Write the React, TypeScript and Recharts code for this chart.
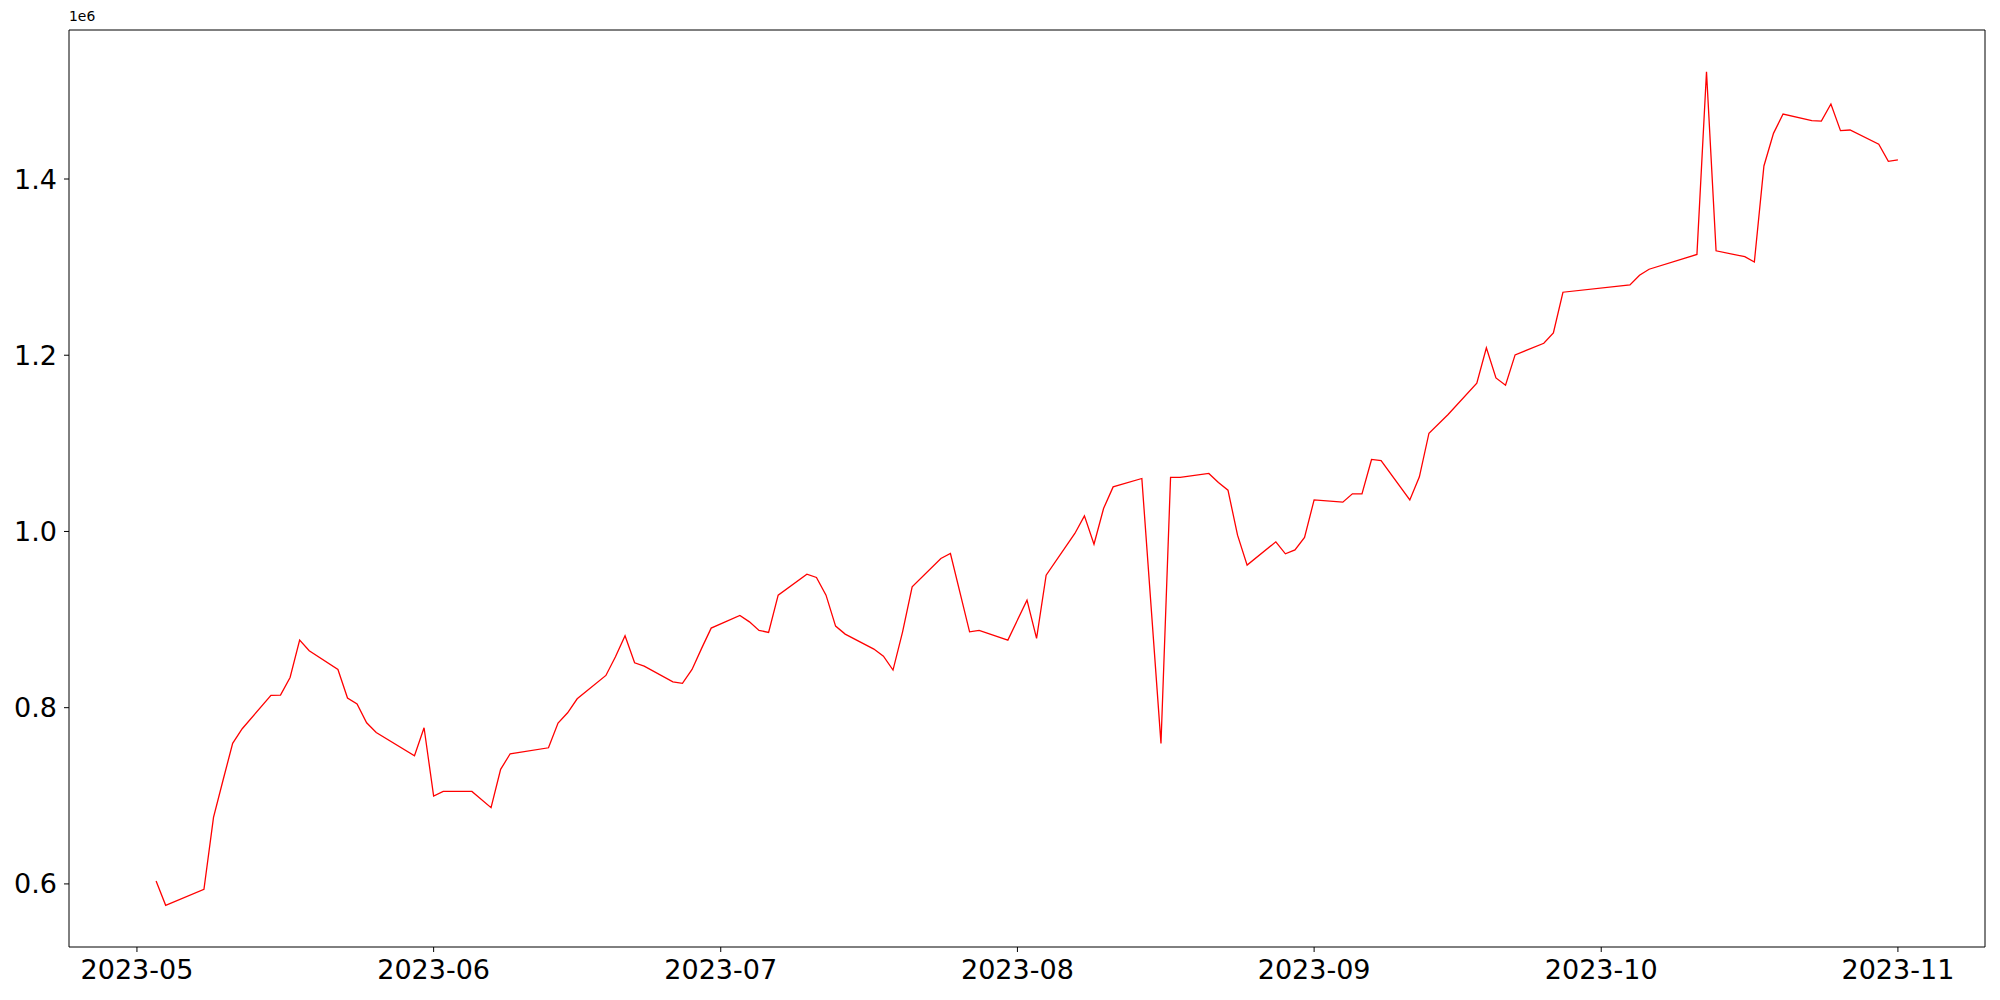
import React from 'react';
import { LineChart, Line, XAxis, YAxis, ReferenceLine } from 'recharts';

const dates: string[] = [
  '2023-05-03', '2023-05-04', '2023-05-08', '2023-05-09', '2023-05-10', '2023-05-11', '2023-05-12',
  '2023-05-15', '2023-05-16', '2023-05-17', '2023-05-18', '2023-05-19', '2023-05-22', '2023-05-23',
  '2023-05-24', '2023-05-25', '2023-05-26', '2023-05-30', '2023-05-31', '2023-06-01', '2023-06-02',
  '2023-06-05', '2023-06-07', '2023-06-08', '2023-06-09', '2023-06-13', '2023-06-14', '2023-06-15',
  '2023-06-16', '2023-06-19', '2023-06-20', '2023-06-21', '2023-06-22', '2023-06-23', '2023-06-26',
  '2023-06-27', '2023-06-28', '2023-06-29', '2023-06-30', '2023-07-03', '2023-07-04', '2023-07-05',
  '2023-07-06', '2023-07-07', '2023-07-10', '2023-07-11', '2023-07-12', '2023-07-13', '2023-07-14',
  '2023-07-17', '2023-07-18', '2023-07-19', '2023-07-20', '2023-07-21', '2023-07-24', '2023-07-25',
  '2023-07-27', '2023-07-28', '2023-07-31', '2023-08-02', '2023-08-03', '2023-08-04', '2023-08-07',
  '2023-08-08', '2023-08-09', '2023-08-10', '2023-08-11', '2023-08-14', '2023-08-16', '2023-08-17',
  '2023-08-18', '2023-08-21', '2023-08-22', '2023-08-23', '2023-08-24', '2023-08-25', '2023-08-28',
  '2023-08-29', '2023-08-30', '2023-08-31', '2023-09-01', '2023-09-04', '2023-09-05', '2023-09-06',
  '2023-09-07', '2023-09-08', '2023-09-11', '2023-09-12', '2023-09-13', '2023-09-15', '2023-09-18',
  '2023-09-19', '2023-09-20', '2023-09-21', '2023-09-22', '2023-09-25', '2023-09-26', '2023-09-27',
  '2023-10-04', '2023-10-05', '2023-10-06', '2023-10-11', '2023-10-12', '2023-10-13', '2023-10-16',
  '2023-10-17', '2023-10-18', '2023-10-19', '2023-10-20', '2023-10-23', '2023-10-24', '2023-10-25',
  '2023-10-26', '2023-10-27', '2023-10-30', '2023-10-31', '2023-11-01',
];

const values: number[] = [
  603300, 575700, 593900, 675500, 717900, 759500, 776100,
  813900, 814300, 834300, 876700, 864600, 843400, 810900,
  804100, 782900, 771900, 745500, 777200, 699700, 705000,
  705000, 686500, 730000, 747700, 754500, 782500, 794200,
  810100, 836600, 857800, 881600, 851000, 847200, 829400,
  827600, 843400, 867300, 890300, 904700, 897400, 887700,
  885400, 927700, 951600, 947800, 927700, 892600, 883500,
  866500, 858500, 842700, 886100, 937200, 969400, 975000,
  886100, 887700, 876700, 922100, 878600, 950400, 997700,
  1017700, 985600, 1026100, 1050600, 1060100, 759500, 1061300,
  1061300, 1065800, 1055600, 1046900, 995800, 961800, 988200,
  974600, 979100, 993200, 1035800, 1033200, 1042700, 1042700,
  1081700, 1080500, 1035800, 1062000, 1111500, 1132700, 1168200,
  1208300, 1174200, 1166000, 1200400, 1213600, 1225300, 1271500,
  1279800, 1290800, 1297600, 1314400, 1521800, 1318500, 1311800,
  1305800, 1414800, 1451800, 1473700, 1466200, 1465800, 1485100,
  1454900, 1455600, 1439400, 1420100, 1421600,
];

const monthTicks: string[] = [
  '2023-05-01', '2023-06-01', '2023-07-01', '2023-08-01', '2023-09-01', '2023-10-01', '2023-11-01',
];

const yTicks: number[] = [600000, 800000, 1000000, 1200000, 1400000];

const toTime = (s: string) => {
  const [y, m, d] = s.split('-').map(Number);
  return Date.UTC(y, m - 1, d);
};

const data = dates.map((d, i) => ({ t: toTime(d), v: values[i] }));

// matplotlib-style 5% margins around the data
const tMin = data[0].t;
const tMax = data[data.length - 1].t;
const tPad = (tMax - tMin) * 0.05;
const vMin = Math.min(...values);
const vMax = Math.max(...values);
const vPad = (vMax - vMin) * 0.05;

const font = '"DejaVu Sans", sans-serif';

const fmtMonth = (t: number) => {
  const d = new Date(t);
  return `${d.getUTCFullYear()}-${String(d.getUTCMonth() + 1).padStart(2, '0')}`;
};

export default function App() {
  return (
    <div style={{ position: 'absolute', left: 0, top: 0, width: 2000, height: 1000, background: '#fff' }}>
      <style>{'body{margin:0}'}</style>
      <div style={{ position: 'absolute', left: 69, top: 8, fontFamily: font, fontSize: 13.9, color: '#000' }}>1e6</div>
      <LineChart width={2000} height={1000} data={data} margin={{ top: 30, right: 15, bottom: 0, left: 0 }}>
        <XAxis
          dataKey="t"
          type="number"
          domain={[tMin - tPad, tMax + tPad]}
          ticks={monthTicks.map(toTime)}
          tickFormatter={fmtMonth}
          height={53}
          stroke="#000"
          tickSize={5}
          tickMargin={8}
          tick={{ fill: '#000', fontSize: 27, fontFamily: font }}
          allowDataOverflow
        />
        <YAxis
          type="number"
          domain={[vMin - vPad, vMax + vPad]}
          ticks={yTicks}
          tickFormatter={(v: number) => (v / 1e6).toFixed(1)}
          width={69}
          stroke="#000"
          tickSize={5}
          tickMargin={7}
          tick={{ fill: '#000', fontSize: 27, fontFamily: font }}
          allowDataOverflow
        />
        {/* top and right spines */}
        <ReferenceLine y={vMax + vPad} stroke="#000" strokeWidth={1} ifOverflow="visible" />
        <ReferenceLine x={tMax + tPad} stroke="#000" strokeWidth={1} ifOverflow="visible" />
        <Line type="linear" dataKey="v" stroke="#ff0000" strokeWidth={1.3} dot={false} isAnimationActive={false} />
      </LineChart>
    </div>
  );
}
